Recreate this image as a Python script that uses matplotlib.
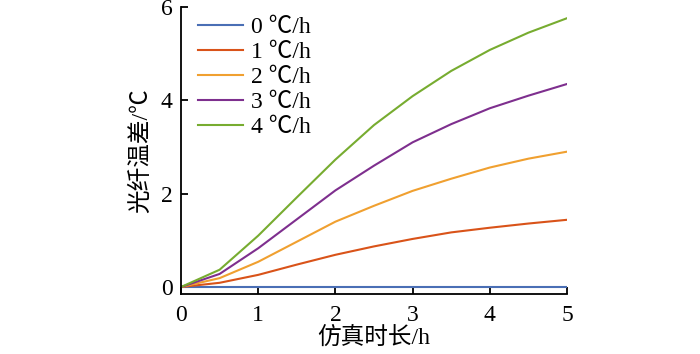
import matplotlib
matplotlib.use("Agg")
import matplotlib.pyplot as plt

plt.rcParams['font.family'] = ['Liberation Serif', 'Noto Sans CJK SC', 'DejaVu Sans']

x = [0, 0.5, 1, 1.5, 2, 2.5, 3, 3.5, 4, 4.5, 5]
s0 = [0, 0, 0, 0, 0, 0, 0, 0, 0, 0, 0]
s1 = [0, 0.09, 0.26, 0.48, 0.69, 0.87, 1.03, 1.17, 1.27, 1.36, 1.44]
s2 = [0, 0.19, 0.54, 0.97, 1.40, 1.74, 2.06, 2.32, 2.56, 2.75, 2.90]
s3 = [0, 0.28, 0.83, 1.45, 2.07, 2.60, 3.10, 3.49, 3.83, 4.10, 4.35]
s4 = [0, 0.37, 1.10, 1.92, 2.73, 3.47, 4.09, 4.63, 5.08, 5.45, 5.76]
labels = ['0 ℃/h', '1 ℃/h', '2 ℃/h', '3 ℃/h', '4 ℃/h']
colors = ['#4a6fb5', '#d95319', '#f0a030', '#7e2f8e', '#77ac30']
xticks = [0, 1, 2, 3, 4, 5]
yticks = [0, 2, 4, 6]

fig = plt.figure(figsize=(7, 3.54), dpi=100)
ax = fig.add_axes([181/700, 1-294/354, (567-181)/700, (294-7)/354])
for s, lab, c in zip([s0, s1, s2, s3, s4], labels, colors):
    ax.plot(x, s, color=c, lw=1.5, label=lab)

ax.set_xlim(0, 5)
ax.set_ylim(-0.15, 6)
ax.set_xticks(xticks)
ax.set_yticks(yticks)
ax.tick_params(direction='in', length=5, width=1.3, labelsize=17)
ax.tick_params(axis='x', pad=8)
ax.tick_params(axis='y', pad=6)
for sp in ['top', 'right']:
    ax.spines[sp].set_visible(False)
for sp in ['left', 'bottom']:
    ax.spines[sp].set_linewidth(1.3)
ax.set_xlabel('仿真时长/h', fontsize=17, labelpad=0)
ax.set_ylabel('光纤温差/℃', fontsize=17, labelpad=6)
ax.legend(loc='upper left', frameon=False, fontsize=17, handlelength=1.9,
          handletextpad=0.35, labelspacing=0.15, borderaxespad=0.0,
          bbox_to_anchor=(0.02, 1.0))
fig.savefig('out.png', dpi=100)
